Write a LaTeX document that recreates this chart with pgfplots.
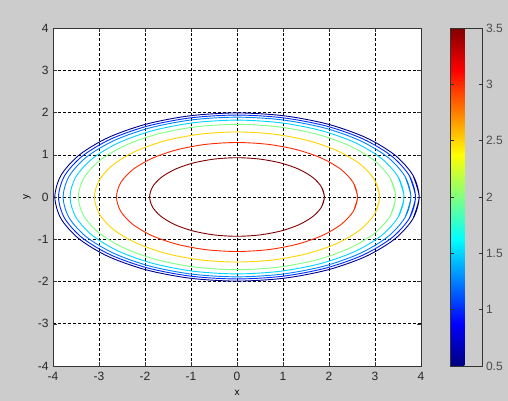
\documentclass[border=0pt]{standalone}
\usepackage{pgfplots}
\pgfplotsset{compat=1.18}
\usepackage{fontspec}
\setmainfont{Liberation Sans}
\definecolor{figgray}{rgb}{0.8,0.8,0.8}
\definecolor{c1}{rgb}{0,0,0.56}
\definecolor{c2}{rgb}{0,0.17,1}
\definecolor{c3}{rgb}{0,0.5,1}
\definecolor{c4}{rgb}{0,0.83,1}
\definecolor{c5}{rgb}{0.5,1,0.5}
\definecolor{c6}{rgb}{1,0.83,0}
\definecolor{c7}{rgb}{1,0.17,0}
\definecolor{c8}{rgb}{0.5,0,0}
\pgfplotsset{/pgf/number format/assume math mode=true}
\begin{document}
\begin{tikzpicture}[x=1pt,y=1pt]
\fill[figgray] (0,0) rectangle (508,401);
\begin{axis}[
  at={(53pt,35pt)}, anchor=south west,
  width=368pt, height=338pt, scale only axis,
  xmin=-4, xmax=4, ymin=-4, ymax=4,
  xtick={-4,-3,...,4}, ytick={-4,-3,...,4},
  axis background/.style={fill=white},
  axis line style={black!80, line width=0.8pt},
  tick align=inside, major tick length=4pt,
  every tick/.style={black!80},
  grid=major,
  major grid style={black, line width=0.5pt, dash pattern=on 3pt off 2pt},
  tick label style={font=\fontsize{12}{14}\selectfont, text=black!85},
  xticklabel style={yshift=-3pt},
  yticklabel style={xshift=-1pt},
  label style={font=\fontsize{12}{14}\selectfont, text=black!85},
  xlabel={x}, ylabel={y},
  every axis x label/.style={at={(axis description cs:0.5,0)}, anchor=center, yshift=-27pt},
  every axis y label/.style={at={(axis description cs:0,0.5)}, xshift=-26pt, anchor=center, rotate=90},
  colorbar,
  colormap/jet,
  point meta min=0.5, point meta max=3.5,
  colorbar style={
    at={(parent axis.south east)}, anchor=south west, xshift=20.5pt,
    width=32.5pt,
    ytick={0.5,1,1.5,2,2.5,3,3.5},
    yticklabel pos=right,
    tick align=inside, major tick length=4pt,
    axis line style={black!80, line width=0.8pt},
    every tick/.style={black!80},
    yticklabel style={font=\fontsize{12}{14}\selectfont, text=black!70},
  },
]
\addplot[c1, line width=0.9pt, smooth] coordinates {(3.825,-0.515) (3.96,0) (3.825,0.515) (3.429,0.995) (2.8,1.407) (1.98,1.723) (1.025,1.922) (0,1.99) (-1.025,1.922) (-1.98,1.723) (-2.8,1.407) (-3.429,0.995) (-3.825,0.515) (-3.96,0) (-3.825,-0.515) (-3.429,-0.995) (-2.8,-1.407) (-1.98,-1.723) (-1.025,-1.922) (0,-1.99) (1.025,-1.922) (1.98,-1.723) (2.8,-1.407) (3.429,-0.995) (3.825,-0.515) (3.96,0) (3.825,0.515)};
\addplot[c2, line width=0.9pt, smooth] coordinates {(3.748,-0.502) (3.88,0) (3.748,0.502) (3.36,0.97) (2.744,1.372) (1.94,1.68) (1.004,1.874) (0,1.94) (-1.004,1.874) (-1.94,1.68) (-2.744,1.372) (-3.36,0.97) (-3.748,0.502) (-3.88,0) (-3.748,-0.502) (-3.36,-0.97) (-2.744,-1.372) (-1.94,-1.68) (-1.004,-1.874) (0,-1.94) (1.004,-1.874) (1.94,-1.68) (2.744,-1.372) (3.36,-0.97) (3.748,-0.502) (3.88,0) (3.748,0.502)};
\addplot[c3, line width=0.9pt, smooth] coordinates {(3.651,-0.489) (3.78,0) (3.651,0.489) (3.273,0.945) (2.673,1.336) (1.89,1.637) (0.978,1.826) (0,1.89) (-0.978,1.826) (-1.89,1.637) (-2.673,1.336) (-3.273,0.945) (-3.651,0.489) (-3.78,0) (-3.651,-0.489) (-3.273,-0.945) (-2.673,-1.336) (-1.89,-1.637) (-0.978,-1.826) (0,-1.89) (0.978,-1.826) (1.89,-1.637) (2.673,-1.336) (3.273,-0.945) (3.651,-0.489) (3.78,0) (3.651,0.489)};
\addplot[c4, line width=0.9pt, smooth] coordinates {(3.506,-0.471) (3.63,0) (3.506,0.471) (3.144,0.91) (2.567,1.287) (1.815,1.576) (0.939,1.758) (0,1.82) (-0.939,1.758) (-1.815,1.576) (-2.567,1.287) (-3.144,0.91) (-3.506,0.471) (-3.63,0) (-3.506,-0.471) (-3.144,-0.91) (-2.567,-1.287) (-1.815,-1.576) (-0.939,-1.758) (0,-1.82) (0.939,-1.758) (1.815,-1.576) (2.567,-1.287) (3.144,-0.91) (3.506,-0.471) (3.63,0) (3.506,0.471)};
\addplot[c5, line width=0.9pt, smooth] coordinates {(3.332,-0.445) (3.45,0) (3.332,0.445) (2.988,0.86) (2.439,1.216) (1.725,1.49) (0.893,1.661) (0,1.72) (-0.893,1.661) (-1.725,1.49) (-2.439,1.216) (-2.988,0.86) (-3.332,0.445) (-3.45,0) (-3.332,-0.445) (-2.988,-0.86) (-2.439,-1.216) (-1.725,-1.49) (-0.893,-1.661) (0,-1.72) (0.893,-1.661) (1.725,-1.49) (2.439,-1.216) (2.988,-0.86) (3.332,-0.445) (3.45,0) (3.332,0.445)};
\addplot[c6, line width=0.9pt, smooth] coordinates {(2.994,-0.399) (3.1,0) (2.994,0.399) (2.685,0.77) (2.192,1.089) (1.55,1.334) (0.802,1.488) (0,1.54) (-0.802,1.488) (-1.55,1.334) (-2.192,1.089) (-2.685,0.77) (-2.994,0.399) (-3.1,0) (-2.994,-0.399) (-2.685,-0.77) (-2.192,-1.089) (-1.55,-1.334) (-0.802,-1.488) (0,-1.54) (0.802,-1.488) (1.55,-1.334) (2.192,-1.089) (2.685,-0.77) (2.994,-0.399) (3.1,0) (2.994,0.399)};
\addplot[c7, line width=0.9pt, smooth] coordinates {(2.531,-0.334) (2.62,0) (2.531,0.334) (2.269,0.645) (1.853,0.912) (1.31,1.117) (0.678,1.246) (0,1.29) (-0.678,1.246) (-1.31,1.117) (-1.853,0.912) (-2.269,0.645) (-2.531,0.334) (-2.62,0) (-2.531,-0.334) (-2.269,-0.645) (-1.853,-0.912) (-1.31,-1.117) (-0.678,-1.246) (0,-1.29) (0.678,-1.246) (1.31,-1.117) (1.853,-0.912) (2.269,-0.645) (2.531,-0.334) (2.62,0) (2.531,0.334)};
\addplot[c8, line width=0.9pt, smooth] coordinates {(1.835,-0.241) (1.9,0) (1.835,0.241) (1.645,0.465) (1.343,0.658) (0.95,0.805) (0.492,0.898) (0,0.93) (-0.492,0.898) (-0.95,0.805) (-1.343,0.658) (-1.645,0.465) (-1.835,0.241) (-1.9,0) (-1.835,-0.241) (-1.645,-0.465) (-1.343,-0.658) (-0.95,-0.805) (-0.492,-0.898) (0,-0.93) (0.492,-0.898) (0.95,-0.805) (1.343,-0.658) (1.645,-0.465) (1.835,-0.241) (1.9,0) (1.835,0.241)};
\end{axis}
\end{tikzpicture}
\end{document}
